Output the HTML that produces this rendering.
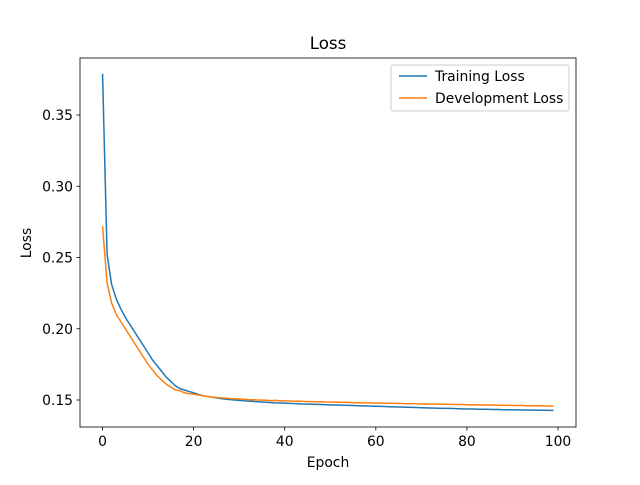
<!DOCTYPE html>
<html><head><meta charset="utf-8"><style>
body{margin:0;background:#fff}
svg{font-family:"DejaVu Sans","Liberation Sans",sans-serif}
</style></head><body>
<svg id="chart" width="640" height="480" viewBox="0 0 640 480">
<rect width="640" height="480" fill="#fff"/>
<text x="328" y="49" font-size="16.7" text-anchor="middle">Loss</text>
<g id="plot"></g>
<rect x="80" y="58" width="496" height="369" fill="none" stroke="#000" stroke-width="0.8"/>
<text x="328" y="467" font-size="13.9" text-anchor="middle">Epoch</text>
<text transform="translate(31,243) rotate(-90)" font-size="13.9" text-anchor="middle">Loss</text>
<g>
<rect x="391" y="65" width="178" height="46" rx="2" fill="#fff" fill-opacity="0.8" stroke="#ccc" stroke-width="1"/>
<line x1="399" y1="76" x2="427" y2="76" stroke="#1f77b4" stroke-width="1.5"/>
<text x="435" y="81" font-size="13.9">Training Loss</text>
<line x1="399" y1="98" x2="427" y2="98" stroke="#ff7f0e" stroke-width="1.5"/>
<text x="435" y="103" font-size="13.9">Development Loss</text>
</g>
</svg>
<script>
const trainLoss=[0.379,0.252,0.231,0.221,0.214,0.208,0.203,0.198,0.193,0.188,0.183,0.178,0.174,0.170,0.166,0.163,0.160,0.158,0.157,0.156,0.155,0.154,0.153,0.1525,0.152,0.1515,0.151,0.1506,0.1503,0.150,
0.1497,0.1495,0.1492,0.149,0.1488,0.1486,0.1484,0.1482,0.148,0.1479,
0.1478,0.1476,0.1475,0.1474,0.1472,0.1471,0.147,0.1469,0.1468,0.1467,
0.1466,0.1465,0.1464,0.1463,0.1462,0.1461,0.146,0.1459,0.1458,0.1457,
0.1456,0.1455,0.1454,0.1453,0.1452,0.1451,0.145,0.1449,0.1448,0.1447,
0.1446,0.1445,0.1444,0.1443,0.1442,0.1441,0.1441,0.144,0.1439,0.1438,
0.1437,0.1437,0.1436,0.1435,0.1435,0.1434,0.1433,0.1433,0.1432,0.1432,
0.1431,0.1431,0.143,0.143,0.1429,0.1429,0.1428,0.1428,0.1427,0.1427];
const devLoss=[0.272,0.232,0.218,0.210,0.205,0.200,0.195,0.190,0.185,0.180,0.175,0.171,0.167,0.164,0.161,0.159,0.157,0.1565,0.155,0.1545,0.154,0.1535,0.153,0.1525,0.152,0.1518,0.1515,0.1513,0.151,0.1508,
0.1507,0.1505,0.1503,0.1502,0.150,0.1499,0.1498,0.1496,0.1497,0.1494,
0.1494,0.1493,0.1491,0.1492,0.149,0.1489,0.1489,0.1487,0.1488,0.1486,
0.1485,0.1485,0.1484,0.1483,0.1483,0.1481,0.1482,0.148,0.148,0.1479,
0.1478,0.1478,0.1477,0.1477,0.1476,0.1476,0.1475,0.1474,0.1475,0.1473,
0.1472,0.1473,0.1471,0.1471,0.147,0.147,0.1469,0.1469,0.1468,0.1468,
0.1467,0.1466,0.1467,0.1465,0.1465,0.1464,0.1465,0.1463,0.1463,0.1462,
0.1462,0.1461,0.1462,0.146,0.146,0.1459,0.146,0.1458,0.1458,0.1458];
const xTicks=[0,20,40,60,80,100];
const yTicks=[0.15,0.20,0.25,0.30,0.35];
const NS="http://www.w3.org/2000/svg";
const L=80,R=576,T=58,B=427;
function xs(v){return L+(v+4.95)/(103.95+4.95)*(R-L);}
function ys(v){return 400-(v-0.15)*1425;}
const g=document.getElementById('plot');
function mk(t,a){const e=document.createElementNS(NS,t);for(const k in a)e.setAttribute(k,a[k]);g.appendChild(e);return e;}
xTicks.forEach(t=>{const x=xs(t);
 const l=mk('line',{x1:x,y1:B,x2:x,y2:B+3.5,stroke:'#000','stroke-width':0.8});
 
 
 const tx=mk('text',{x:x,y:B+19,'font-size':13.9,'text-anchor':'middle'});tx.textContent=t;
 
 });
yTicks.forEach(t=>{const y=ys(t);
 const l=mk('line',{x1:L-3.5,y1:y,x2:L,y2:y,stroke:'#000','stroke-width':0.8});
 
 
 const tx=mk('text',{x:L-7,y:y+5,'font-size':13.9,'text-anchor':'end'});tx.textContent=t.toFixed(2);
 
 });
function line(arr,c,name){const p=mk('polyline',{points:arr.map((v,i)=>xs(i)+','+ys(v)).join(' '),fill:'none',stroke:c,'stroke-width':1.5,'stroke-linejoin':'round'});
 
 }
line(trainLoss,'#1f77b4','training-loss-line');
line(devLoss,'#ff7f0e','development-loss-line');
</script>
</body></html>
